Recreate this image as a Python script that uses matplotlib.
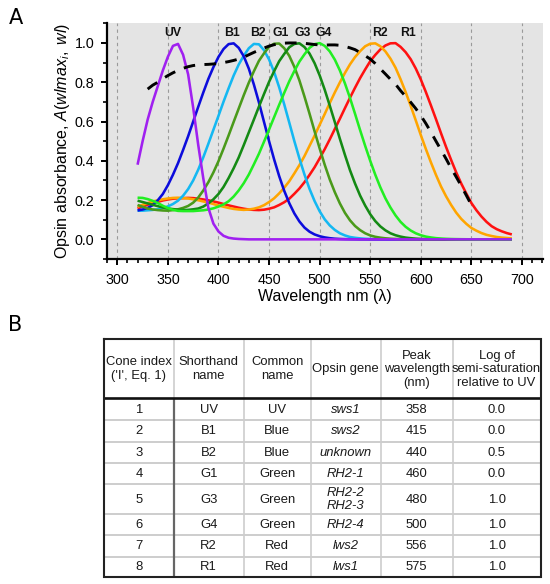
import matplotlib
matplotlib.use('Agg')
import matplotlib.pyplot as plt
from matplotlib.ticker import MultipleLocator

plt.rcParams['font.family'] = ['Liberation Sans', 'DejaVu Sans']
plt.rcParams['mathtext.fontset'] = 'custom'
plt.rcParams['mathtext.rm'] = 'Liberation Sans'
plt.rcParams['mathtext.it'] = 'Liberation Sans:italic'
plt.rcParams['mathtext.bf'] = 'Liberation Sans:bold'

# ---------------- data (panel A) ----------------
wavelength_nm = list(range(320, 695, 5))   # sampling grid 320..690 nm

uv_abs = [
    0.38, 0.50, 0.61, 0.70, 0.78, 0.86, 0.93, 0.985, 0.995, 0.94,
    0.84, 0.67, 0.48, 0.31, 0.16, 0.08, 0.04, 0.018, 0.008, 0.004,
    0.002, 0.001, 0, 0, 0, 0, 0, 0, 0, 0,
    0, 0, 0, 0, 0, 0, 0, 0, 0, 0,
    0, 0, 0, 0, 0, 0, 0, 0, 0, 0,
    0, 0, 0, 0, 0, 0, 0, 0, 0, 0,
    0, 0, 0, 0, 0, 0, 0, 0, 0, 0,
    0, 0, 0, 0, 0]

b1_abs = [
    0.147, 0.152, 0.160, 0.174, 0.199, 0.231, 0.276, 0.329, 0.388, 0.455,
    0.525, 0.600, 0.675, 0.748, 0.817, 0.877, 0.929, 0.969, 0.994, 0.998,
    0.975, 0.932, 0.869, 0.788, 0.697, 0.598, 0.500, 0.407, 0.322, 0.247,
    0.184, 0.132, 0.091, 0.060, 0.039, 0.025, 0.016, 0.010, 0.006, 0.0034,
    0.002, 0.0012, 0.0007, 0.0004, 0, 0, 0, 0, 0, 0,
    0, 0, 0, 0, 0, 0, 0, 0, 0, 0,
    0, 0, 0, 0, 0, 0, 0, 0, 0, 0,
    0, 0, 0, 0, 0]

b2_abs = [
    0.146, 0.146, 0.148, 0.150, 0.153, 0.160, 0.168, 0.180, 0.197, 0.222,
    0.256, 0.300, 0.355, 0.418, 0.487, 0.558, 0.629, 0.701, 0.769, 0.834,
    0.890, 0.935, 0.973, 0.995, 0.993, 0.963, 0.916, 0.852, 0.774, 0.687,
    0.594, 0.500, 0.412, 0.330, 0.257, 0.195, 0.143, 0.102, 0.071, 0.048,
    0.031, 0.020, 0.012, 0.008, 0.005, 0.003, 0.002, 0.0012, 0.0008, 0.0005,
    0.0003, 0, 0, 0, 0, 0, 0, 0, 0, 0,
    0, 0, 0, 0, 0, 0, 0, 0, 0, 0,
    0, 0, 0, 0, 0]

g1_abs = [
    0.175, 0.166, 0.157, 0.152, 0.149, 0.147, 0.146, 0.149, 0.153, 0.160,
    0.170, 0.187, 0.213, 0.249, 0.291, 0.341, 0.398, 0.462, 0.529, 0.598,
    0.666, 0.734, 0.798, 0.856, 0.909, 0.947, 0.980, 0.996, 0.997, 0.973,
    0.934, 0.878, 0.809, 0.727, 0.640, 0.550, 0.463, 0.380, 0.305, 0.240,
    0.183, 0.135, 0.097, 0.068, 0.047, 0.031, 0.020, 0.013, 0.0086, 0.0054,
    0.0033, 0.0021, 0.0013, 0.0008, 0.0005, 0.0003, 0, 0, 0, 0,
    0, 0, 0, 0, 0, 0, 0, 0, 0, 0,
    0, 0, 0, 0, 0]

g3_abs = [
    0.197, 0.190, 0.183, 0.176, 0.169, 0.162, 0.157, 0.154, 0.151, 0.149,
    0.150, 0.153, 0.157, 0.167, 0.183, 0.204, 0.231, 0.267, 0.312, 0.362,
    0.417, 0.480, 0.545, 0.610, 0.676, 0.740, 0.802, 0.856, 0.907, 0.944,
    0.978, 0.995, 0.998, 0.979, 0.946, 0.897, 0.835, 0.762, 0.681, 0.597,
    0.512, 0.430, 0.352, 0.284, 0.223, 0.172, 0.128, 0.093, 0.066, 0.046,
    0.031, 0.021, 0.014, 0.009, 0.006, 0.0037, 0.0023, 0.0015, 0.001, 0.0006,
    0.0004, 0, 0, 0, 0, 0, 0, 0, 0, 0,
    0, 0, 0, 0, 0]

g4_abs = [
    0.212, 0.211, 0.205, 0.196, 0.185, 0.171, 0.159, 0.150, 0.145, 0.144,
    0.144, 0.144, 0.146, 0.148, 0.152, 0.158, 0.167, 0.178, 0.194, 0.218,
    0.249, 0.286, 0.330, 0.382, 0.436, 0.497, 0.559, 0.622, 0.685, 0.746,
    0.805, 0.857, 0.905, 0.942, 0.975, 0.994, 0.999, 0.985, 0.957, 0.915,
    0.860, 0.794, 0.720, 0.639, 0.556, 0.476, 0.400, 0.329, 0.265, 0.209,
    0.162, 0.122, 0.089, 0.064, 0.045, 0.031, 0.021, 0.014, 0.0096, 0.0062,
    0.0042, 0.0027, 0.0018, 0.0012, 0.0008, 0.0005, 0.0003, 0, 0, 0,
    0, 0, 0, 0, 0]

r2_abs = [
    0.166, 0.176, 0.185, 0.193, 0.199, 0.204, 0.208, 0.211, 0.212, 0.210,
    0.208, 0.204, 0.199, 0.193, 0.187, 0.180, 0.172, 0.166, 0.160, 0.155,
    0.152, 0.150, 0.152, 0.156, 0.163, 0.174, 0.190, 0.209, 0.234, 0.263,
    0.296, 0.336, 0.378, 0.424, 0.476, 0.528, 0.583, 0.638, 0.694, 0.748,
    0.799, 0.847, 0.891, 0.928, 0.958, 0.983, 0.996, 0.998, 0.983, 0.957,
    0.920, 0.874, 0.815, 0.750, 0.680, 0.606, 0.531, 0.460, 0.392, 0.328,
    0.269, 0.219, 0.175, 0.136, 0.104, 0.079, 0.058, 0.044, 0.032, 0.023,
    0.017, 0.012, 0.009, 0.007, 0.005]

r1_abs = [
    0.157, 0.167, 0.176, 0.184, 0.191, 0.198, 0.203, 0.207, 0.209, 0.210,
    0.211, 0.210, 0.207, 0.203, 0.199, 0.193, 0.187, 0.180, 0.173, 0.167,
    0.161, 0.156, 0.152, 0.150, 0.149, 0.151, 0.156, 0.163, 0.175, 0.189,
    0.207, 0.232, 0.259, 0.291, 0.328, 0.367, 0.412, 0.459, 0.509, 0.562,
    0.614, 0.668, 0.721, 0.772, 0.821, 0.865, 0.907, 0.939, 0.967, 0.987,
    0.998, 0.999, 0.980, 0.953, 0.917, 0.870, 0.814, 0.750, 0.682, 0.612,
    0.540, 0.470, 0.404, 0.341, 0.284, 0.233, 0.185, 0.148, 0.116, 0.089,
    0.067, 0.052, 0.041, 0.032, 0.025]

combined_nm = list(range(330, 655, 5))   # dashed envelope grid 330..650 nm
combined_abs = [
    0.765, 0.785, 0.800, 0.818, 0.834, 0.848, 0.860, 0.871, 0.879, 0.885,
    0.888, 0.890, 0.891, 0.893, 0.896, 0.900, 0.905, 0.911, 0.918, 0.928,
    0.940, 0.952, 0.963, 0.974, 0.984, 0.991, 0.996, 0.999, 1.000, 1.000,
    1.000, 0.998, 0.995, 0.992, 0.990, 0.989, 0.990, 0.990, 0.988, 0.982,
    0.975, 0.966, 0.951, 0.935, 0.918, 0.895, 0.868, 0.842, 0.815, 0.790,
    0.757, 0.728, 0.698, 0.666, 0.630, 0.590, 0.546, 0.500, 0.455, 0.410,
    0.362, 0.318, 0.272, 0.224, 0.175]

cone_labels = ['UV', 'B1', 'B2', 'G1', 'G3', 'G4', 'R2', 'R1']
cone_label_nm = [355, 413, 439, 461, 483, 504, 560, 587]
x_ticks = [300, 350, 400, 450, 500, 550, 600, 650, 700]
y_ticks = [0.0, 0.2, 0.4, 0.6, 0.8, 1.0]

# ---------------- data (panel B) ----------------
tbl_header = ["Cone index\n('I', Eq. 1)", "Shorthand\nname", "Common\nname",
              "Opsin gene", "Peak\nwavelength\n(nm)",
              "Log of\nsemi-saturation\nrelative to UV"]
tbl_index = ['1', '2', '3', '4', '5', '6', '7', '8']
tbl_short = ['UV', 'B1', 'B2', 'G1', 'G3', 'G4', 'R2', 'R1']
tbl_common = ['UV', 'Blue', 'Blue', 'Green', 'Green', 'Green', 'Red', 'Red']
tbl_gene = ['sws1', 'sws2', 'unknown', 'RH2-1', 'RH2-2\nRH2-3', 'RH2-4', 'lws2', 'lws1']
tbl_peak = ['358', '415', '440', '460', '480', '500', '556', '575']
tbl_logsat = ['0.0', '0.0', '0.5', '0.0', '1.0', '1.0', '1.0', '1.0']

# ---------------- figure ----------------
W, H = 550, 584
fig = plt.figure(figsize=(W / 100, H / 100), dpi=100)
ax = fig.add_axes([106.7 / W, 1 - 259 / H, (542.7 - 106.7) / W, (259 - 23.3) / H])
ax.set_facecolor('#e4e4e4')
ax.set_xlim(289.5, 720.5)
ax.set_ylim(-0.1, 1.1)

for s in ('top', 'right'):
    ax.spines[s].set_visible(False)
for s in ('left', 'bottom'):
    ax.spines[s].set_linewidth(1.6)

ax.set_axisbelow(True)
ax.set_xticks(x_ticks)
ax.set_yticks(y_ticks)
ax.set_yticklabels([f'{v:.1f}' for v in y_ticks])
ax.xaxis.set_minor_locator(MultipleLocator(10))
ax.yaxis.set_minor_locator(MultipleLocator(0.1))
ax.tick_params(axis='both', which='major', length=4.5, width=1.4, labelsize=10.3)
ax.tick_params(axis='both', which='minor', length=2.6, width=1.2)
ax.tick_params(axis='x', which='major', pad=5.5)
ax.tick_params(axis='y', which='major', pad=4.5)
ax.xaxis.grid(True, which='major', color='#9a9a9a', linewidth=0.8, linestyle=(0, (3, 3)))

series = [
    (r1_abs, '#ff1111'),
    (r2_abs, '#ffa500'),
    (b2_abs, '#14b8f2'),
    (b1_abs, '#0c0cdc'),
    (g1_abs, '#4a9a1a'),
    (g3_abs, '#148a14'),
    (g4_abs, '#22ee22'),
    (uv_abs, '#a020f0'),
]
for vals, col in series:
    ax.plot(wavelength_nm, vals, color=col, linewidth=1.85, solid_capstyle='butt', zorder=3)

ax.plot(combined_nm, combined_abs, color='black', linewidth=2.1,
        linestyle=(0, (4.0, 3.2)), zorder=5)

for name, xn in zip(cone_labels, cone_label_nm):
    ax.text(xn, 1.053, name, ha='center', va='center', fontsize=8.8,
            fontweight='bold', color='#111111', zorder=6)

ax.set_xlabel('Wavelength nm (λ)', fontsize=11.5, labelpad=1.5)
ax.set_ylabel(r'Opsin absorbance, $A(wlmax_{i},\ wl)$', fontsize=11.5, labelpad=2)

fig.text(16 / W, 1 - 18 / H, 'A', ha='center', va='center', fontsize=15,
         family=['Liberation Sans Narrow', 'DejaVu Sans'])
fig.text(15 / W, 1 - 325 / H, 'B', ha='center', va='center', fontsize=15,
         family=['Liberation Sans Narrow', 'DejaVu Sans'])

# ---------------- table (panel B) ----------------
tab = fig.add_axes([0, 0, 1, 1])
tab.set_xlim(0, W)
tab.set_ylim(H, 0)
tab.axis('off')
tab.patch.set_visible(False)

col_x = [104.3, 173.5, 243.7, 310.5, 380.7, 452.5, 540.7]
row_y = [339.0, 398.3, 420.2, 441.8, 462.8, 484.1, 514.2, 535.3, 556.6, 577.3]

light = '#cdcdcd'
for yy in row_y[2:-1]:
    tab.plot([col_x[0], col_x[-1]], [yy, yy], color=light, linewidth=1.4, solid_capstyle='butt')
for i, xx in enumerate(col_x[1:-1]):
    tab.plot([xx, xx], [row_y[0], row_y[1]], color=light, linewidth=1.2, solid_capstyle='butt')
    if i == 0:
        tab.plot([xx, xx], [row_y[1], row_y[-1]], color='#666666', linewidth=1.6, solid_capstyle='butt')
    else:
        tab.plot([xx, xx], [row_y[1], row_y[-1]], color=light, linewidth=1.2, solid_capstyle='butt')
tab.plot([col_x[0], col_x[-1]], [row_y[1], row_y[1]], color='#111111', linewidth=1.9, solid_capstyle='butt')
tab.plot([col_x[0], col_x[-1], col_x[-1], col_x[0], col_x[0]],
         [row_y[0], row_y[0], row_y[-1], row_y[-1], row_y[0]],
         color='#222222', linewidth=1.5, solid_joinstyle='miter')

fs = 9.4
tc = '#1a1a1a'
hy = (row_y[0] + row_y[1]) / 2
for j, htxt in enumerate(tbl_header):
    cx = (col_x[j] + col_x[j + 1]) / 2
    tab.text(cx, hy + 0.5, htxt, ha='center', va='center', fontsize=fs,
             linespacing=1.17, color=tc)

columns = [tbl_index, tbl_short, tbl_common, tbl_gene, tbl_peak, tbl_logsat]
for j, colvals in enumerate(columns):
    cx = (col_x[j] + col_x[j + 1]) / 2
    for r, val in enumerate(colvals):
        cy = (row_y[r + 1] + row_y[r + 2]) / 2
        tab.text(cx, cy + 0.5, val, ha='center', va='center', fontsize=fs,
                 linespacing=1.17, color=tc,
                 style='italic' if j == 3 else 'normal')

fig.savefig('out.png', dpi=100)
